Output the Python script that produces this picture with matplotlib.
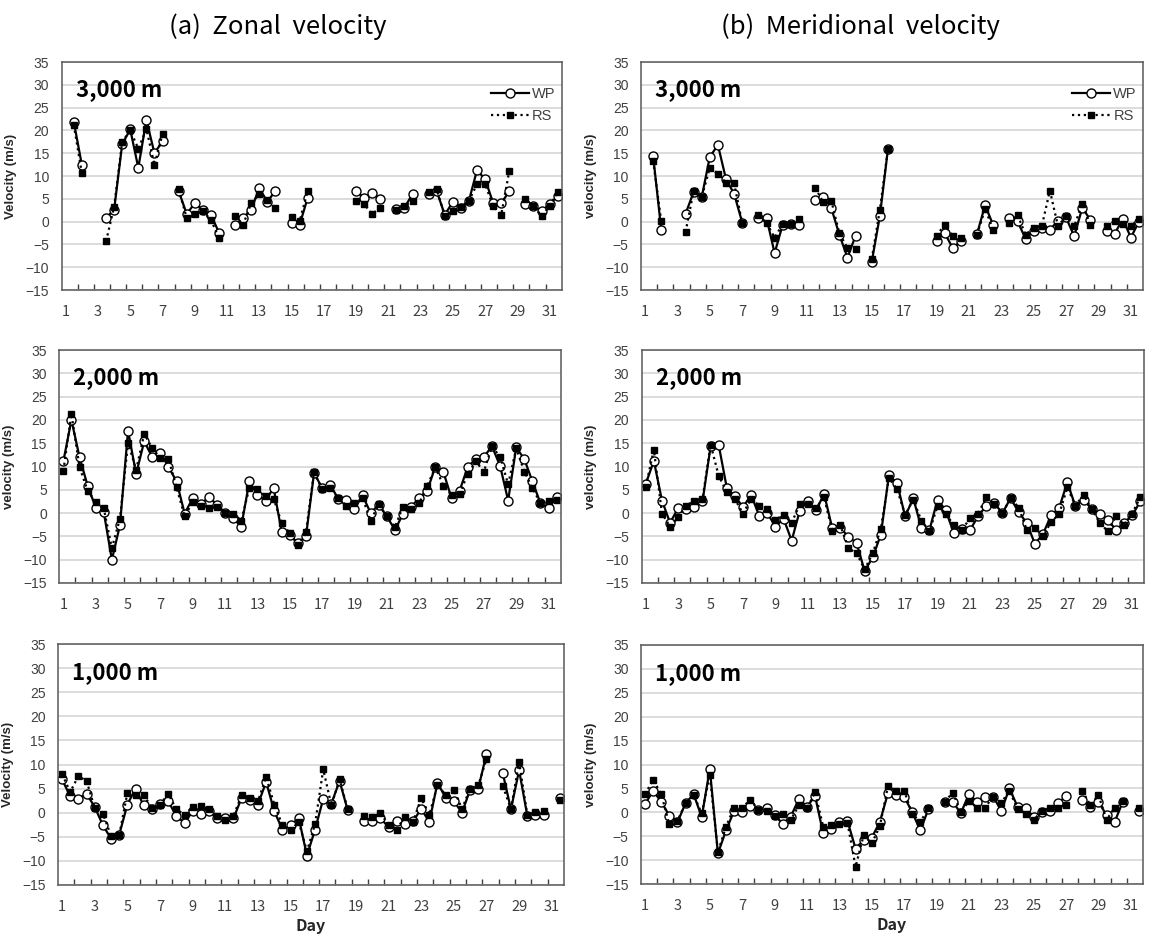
import numpy as np
import matplotlib.pyplot as plt

plt.rcParams['font.family'] = ['Liberation Sans', 'DejaVu Sans']

nan = np.nan
days = np.arange(1, 32, 0.5)   # twice a day, 1 .. 31.5

# zonal velocity (m/s)
u3000_wp = [nan, 21.9, 12.4, nan, nan, 0.8, 2.6, 17.0, 20.2, 11.8,
            22.3, 15.0, 17.6, nan, 6.7, 1.7, 4.0, 2.6, 1.5, -2.4,
            nan, -0.8, 0.8, 2.6, 7.4, 4.3, 6.8, nan, -0.3, -0.7,
            5.2, nan, nan, nan, nan, nan, 6.7, 5.2, 6.3, 4.9,
            nan, 2.7, 3.0, 6.1, nan, 6.0, 6.7, 1.5, 4.3, 3.0,
            4.6, 11.3, 9.3, 4.1, 4.0, 6.7, nan, 3.9, 3.4, 2.3,
            3.8, 5.6]
u3000_rs = [nan, 21.2, 10.6, nan, nan, -4.3, 3.2, 17.5, 20.0, 16.0,
            20.3, 12.4, 19.2, nan, 7.1, 0.8, 1.6, 2.3, 0.4, -3.6,
            nan, 1.3, -0.7, 4.1, 6.0, 4.7, 2.9, nan, 1.0, 0.1,
            6.7, nan, nan, nan, nan, nan, 4.5, 3.8, 1.7, 3.0,
            nan, 2.6, 3.4, 4.5, nan, 6.5, 7.1, 1.2, 2.4, 3.2,
            4.6, 8.2, 8.2, 3.4, 1.5, 11.1, nan, 4.9, 3.4, 1.3,
            3.4, 6.5]
u2000_wp = [11.1, 20.0, 12.0, 5.9, 1.2, 0.2, -10.0, -2.6, 17.7, 8.4,
            15.4, 12.0, 13.0, 9.9, 6.8, -0.1, 3.2, 2.0, 3.4, 1.8,
            0.1, -1.1, -2.9, 6.8, 3.9, 2.7, 5.4, -4.1, -4.6, -6.5,
            -5.0, 8.6, 5.4, 6.1, 3.0, 2.9, 0.9, 3.8, 0.0, 1.8,
            -0.7, -3.6, -0.2, 1.4, 3.2, 4.8, 10.0, 8.8, 3.2, 4.8,
            9.9, 11.6, 12.1, 14.3, 10.2, 2.7, 14.1, 11.6, 6.8, 2.1,
            1.1, 3.4]
u2000_rs = [9.1, 21.3, 9.9, 4.8, 2.4, 1.0, -7.5, -1.2, 15.1, 9.3,
            17.0, 13.9, 11.8, 11.6, 5.5, -0.7, 2.4, 1.6, 1.1, 1.4,
            0.1, -0.1, -1.6, 5.4, 5.2, 3.6, 3.1, -2.1, -4.3, -6.8,
            -4.1, 8.8, 5.1, 5.4, 3.2, 1.6, 2.1, 3.2, -1.6, 1.9,
            -0.7, -3.0, 1.4, 0.9, 2.1, 5.9, 9.8, 5.9, 3.9, 4.1,
            8.4, 11.1, 8.9, 14.3, 12.1, 6.2, 13.9, 8.9, 5.4, 2.1,
            2.5, 2.9]
u1000_wp = [6.9, 3.4, 2.9, 3.9, 1.2, -2.6, -5.4, -4.6, 1.7, 5.0,
            1.5, 0.7, 1.9, 2.4, -0.7, -2.1, 0.3, -0.2, 0.3, -1.1,
            -1.1, -1.2, 3.1, 2.7, 1.7, 6.4, 0.3, -3.5, -2.6, -1.1,
            -8.9, -3.5, 2.9, 1.9, 6.6, 0.5, nan, -1.8, -1.8, -1.1,
            -3.0, -1.8, -2.3, -1.8, 0.8, -1.9, 6.2, 3.1, 2.4, 0.0,
            4.8, 5.0, 12.2, nan, 8.2, 0.7, 8.8, -0.6, -0.4, -0.4,
            nan, 3.1]
u1000_rs = [8.0, 4.3, 7.6, 6.6, 1.0, -0.2, -4.8, -4.7, 4.1, 3.6,
            3.7, 1.0, 1.7, 3.9, 0.7, -0.4, 1.2, 1.4, 0.7, -0.7,
            -1.6, -0.6, 3.6, 3.1, 2.4, 7.4, 1.7, -2.6, -3.6, -1.9,
            -8.0, -2.3, 9.0, 1.5, 6.9, 0.7, nan, -0.6, -0.9, -0.1,
            -2.5, -3.5, -0.8, -1.9, 3.0, -0.4, 5.7, 3.7, 4.8, 0.8,
            5.0, 5.7, 11.1, nan, 5.5, 0.8, 10.5, -0.4, 0.1, 0.3,
            nan, 2.7]

# meridional velocity (m/s)
v3000_wp = [nan, 14.4, -1.8, nan, nan, 1.7, 6.5, 5.4, 14.2, 16.8,
            9.3, 6.1, -0.2, nan, 0.8, 0.8, -6.9, -0.7, -0.6, -0.7,
            nan, 4.7, 5.4, 3.0, -2.9, -7.9, -3.1, nan, -8.8, 1.2,
            15.9, nan, nan, nan, nan, nan, -4.2, -2.5, -5.8, -4.3,
            nan, -2.7, 3.6, -0.8, nan, 0.8, 0.1, -3.8, -2.0, -1.4,
            -1.8, 0.2, 0.9, -3.2, 3.0, 0.4, nan, -2.1, -2.7, 0.6,
            -3.5, 0.0]
v3000_rs = [nan, 13.3, 0.1, nan, nan, -2.3, 6.7, 5.4, 11.8, 10.5,
            8.5, 8.4, -0.3, nan, 1.5, -0.3, -3.5, -0.6, -0.6, 0.6,
            nan, 7.4, 4.3, 4.6, -2.6, -5.8, -6.0, nan, -8.2, 2.6,
            15.9, nan, nan, nan, nan, nan, -3.1, -0.7, -3.2, -3.6,
            nan, -2.9, 2.8, -1.8, nan, -0.2, 1.5, -2.9, -1.3, -1.0,
            6.8, -1.0, 1.2, -1.0, 3.9, -0.7, nan, -1.0, 0.1, -0.6,
            -1.0, 0.6]
v2000_wp = [6.3, 11.2, 2.7, -2.1, 1.1, 0.9, 1.3, 2.5, 14.3, 14.6,
            5.4, 3.6, 1.3, 3.9, -0.6, 0.0, -2.9, -1.2, -5.9, 0.5,
            2.7, 0.6, 4.1, -3.2, -3.1, -5.1, -6.4, -12.4, -9.5, -4.6,
            8.2, 6.4, -0.7, 3.2, -3.2, -3.6, 2.9, 0.6, -4.3, -3.4,
            -3.6, -0.7, 1.6, 2.1, 0.0, 3.2, 0.2, -2.1, -6.6, -4.5,
            -0.5, 1.1, 6.6, 1.5, 2.9, 0.9, -0.2, -1.4, -3.6, -2.1,
            -0.5, 2.5]
v2000_rs = [5.7, 13.6, -0.1, -2.9, -0.9, 1.6, 2.7, 3.0, 14.7, 8.0,
            4.5, 3.0, -0.1, 3.1, 1.6, 0.9, -1.4, -0.4, -2.1, 1.9,
            1.9, 1.1, 3.4, -3.9, -2.6, -7.5, -8.6, -12.1, -8.6, -3.4,
            7.6, 5.1, -0.4, 2.9, -1.6, -3.9, 1.6, -0.1, -2.6, -3.6,
            -1.1, -0.1, 3.4, 1.9, 0.0, 3.2, 1.2, -3.6, -3.1, -5.0,
            -1.9, -0.2, 5.5, 1.6, 3.9, 0.9, -2.1, -3.9, -0.7, -2.5,
            -0.1, 3.4]
v1000_wp = [1.7, 4.5, 2.2, -0.7, -2.1, 1.9, 3.8, -1.0, 9.1, -8.6,
            -3.8, 0.3, 0.0, 1.3, 0.4, 1.0, -0.6, -2.4, -0.9, 2.8,
            1.2, 3.4, -4.4, -3.5, -2.0, -1.8, -7.6, -5.8, -5.3, -2.0,
            4.0, 3.6, 3.3, 0.0, -3.8, 0.7, nan, 2.2, 2.2, -0.2,
            3.8, 2.2, 3.1, 3.3, 0.3, 5.0, 1.2, 0.8, -0.9, 0.1,
            0.3, 1.9, 3.4, nan, 2.6, 1.2, 2.2, -0.6, -2.0, 2.2,
            nan, 0.3]
v1000_rs = [3.8, 6.8, 3.8, -2.5, -1.8, 1.9, 3.6, -0.2, 7.8, -8.3,
            -3.0, 1.0, 1.0, 2.6, 0.5, 0.3, -0.7, -0.4, -1.6, 1.5,
            0.8, 4.2, -3.0, -2.7, -2.4, -2.2, -11.4, -4.8, -6.5, -2.9,
            5.5, 4.5, 4.5, -0.3, -2.0, 0.8, nan, 2.2, 4.1, 0.0,
            2.4, 1.0, 1.0, 3.3, 2.0, 4.5, 0.7, -0.3, -1.6, 0.3,
            1.0, 1.0, 1.5, nan, 4.5, 1.5, 3.6, -1.6, 1.0, 2.4,
            nan, 0.8]

W, H = 1164, 935
fig = plt.figure(figsize=(W / 100, H / 100), dpi=100)

# (label, wp, rs, pixel box left/top/right/bottom, ylabel, legend?, bottom row?)
panels = [
    ('3,000 m', u3000_wp, u3000_rs, (61.7, 62, 561.7, 290), 'Velocity (m/s)', True, False),
    ('3,000 m', v3000_wp, v3000_rs, (641, 62, 1143, 290), 'velocity (m/s)', True, False),
    ('2,000 m', u2000_wp, u2000_rs, (59.3, 350, 560.7, 583), 'velocity (m/s)', False, False),
    ('2,000 m', v2000_wp, v2000_rs, (641.7, 350, 1144.3, 583), 'velocity (m/s)', False, False),
    ('1,000 m', u1000_wp, u1000_rs, (58, 644, 564, 885), 'Velocity (m/s)', False, True),
    ('1,000 m', v1000_wp, v1000_rs, (641, 645, 1143, 884), 'velocity (m/s)', False, True),
]

kr = ['Noto Sans CJK KR', 'DejaVu Sans']

for name, wp, rs, box, ylab, show_leg, bottom in panels:
    l, t, r, b = box
    ax = fig.add_axes([l / W, 1 - b / H, (r - l) / W, (b - t) / H])
    ax.plot(days, wp, '-o', color='black', lw=1.6, ms=6.5, mfc='white',
            mec='black', mew=1.0, label='WP')
    ax.plot(days, rs, ':s', color='black', lw=1.6, ms=5, mfc='black',
            mec='black', label='RS')
    ax.set_xlim(0.75, 31.75)
    ax.set_ylim(-15, 35)
    ax.set_yticks(range(-15, 36, 5))
    ax.yaxis.grid(True, color='#d9d9d9', lw=1.3)
    ax.set_axisbelow(True)
    ax.set_xticks(range(1, 32, 2))
    ax.set_xticks(np.arange(1.75, 31.5, 1), minor=True)
    ax.tick_params(axis='x', which='major', length=0, pad=11, labelsize=10.5,
                   labelcolor='#404040')
    ax.tick_params(axis='x', which='minor', direction='in', length=4,
                   width=1, color='#404040')
    ax.tick_params(axis='y', length=0, pad=9, labelsize=10, labelcolor='#404040')
    for lab in ax.get_xticklabels():
        lab.set_family(kr)
    for sp in ax.spines.values():
        sp.set_color('#595959')
        sp.set_linewidth(1.1)
    ax.set_ylabel(ylab, fontsize=9.5, fontweight='bold', color='#262626', labelpad=6)
    ax.text(0.028, 0.88, name, transform=ax.transAxes, fontsize=16,
            fontweight='bold', family=kr, va='center', ha='left')
    if show_leg:
        ax.legend(loc='upper right', bbox_to_anchor=(1.005, 0.93), frameon=False,
                  fontsize=10.5, handlelength=2.6, handletextpad=0.2,
                  labelspacing=0.6, borderaxespad=0.2, labelcolor='#404040')
    if bottom:
        ax.set_xlabel('Day', fontsize=11.5, fontweight='bold', family=kr,
                      color='#262626', labelpad=3)

fig.text(278 / W, 1 - 27 / H, '(a)  Zonal  velocity', fontsize=18.5,
         family=kr, ha='center', va='center')
fig.text(860 / W, 1 - 27 / H, '(b)  Meridional  velocity', fontsize=18.5,
         family=kr, ha='center', va='center')

fig.savefig('out.png', dpi=100, facecolor='white')
